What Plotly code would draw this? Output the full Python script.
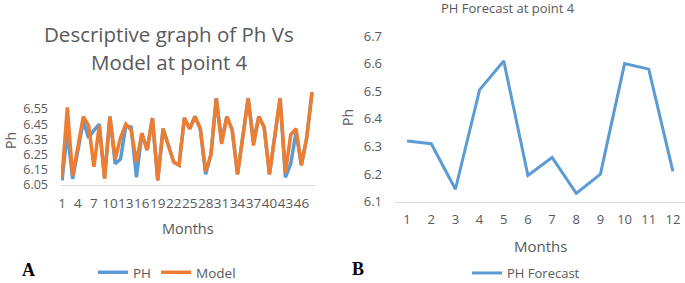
import plotly.graph_objects as go

# ---- Data ----
months_a = list(range(1, 49))
ph_a = [6.08, 6.40, 6.09, 6.28, 6.47, 6.36, 6.41, 6.45, 6.10, 6.50,
        6.19, 6.22, 6.44, 6.43, 6.10, 6.39, 6.28, 6.49, 6.08, 6.42,
        6.31, 6.20, 6.18, 6.49, 6.42, 6.50, 6.42, 6.12, 6.25, 6.62,
        6.34, 6.50, 6.41, 6.12, 6.37, 6.62, 6.34, 6.50, 6.43, 6.12,
        6.37, 6.62, 6.10, 6.19, 6.40, 6.18, 6.36, 6.66]
model_a = [6.10, 6.56, 6.11, 6.30, 6.50, 6.44, 6.17, 6.44, 6.09, 6.50,
           6.22, 6.36, 6.45, 6.41, 6.20, 6.39, 6.28, 6.49, 6.08, 6.42,
           6.31, 6.20, 6.18, 6.49, 6.42, 6.50, 6.42, 6.14, 6.25, 6.62,
           6.32, 6.50, 6.41, 6.12, 6.37, 6.62, 6.31, 6.50, 6.43, 6.12,
           6.37, 6.62, 6.13, 6.38, 6.42, 6.18, 6.36, 6.66]
xtick_a = list(range(1, 47, 3))
ytick_a = [6.05, 6.15, 6.25, 6.35, 6.45, 6.55]

months_b = list(range(1, 13))
forecast_b = [6.32, 6.31, 6.145, 6.505, 6.61, 6.195, 6.26, 6.13, 6.20, 6.60, 6.58, 6.21]
ytick_b = [6.1, 6.2, 6.3, 6.4, 6.5, 6.6, 6.7]

W, H = 685, 283
def px(x):
    return x / W
def py(y):
    return 1 - y / H

BLUE = "#5B9BD5"
ORANGE = "#ED7D31"
GRAY = "#595959"
FONT = "Open Sans"

fig = go.Figure()
fig.add_trace(go.Scatter(x=months_a, y=ph_a, mode="lines", name="PH",
                         line=dict(color=BLUE, width=3.5), xaxis="x", yaxis="y",
                         legend="legend"))
fig.add_trace(go.Scatter(x=months_a, y=model_a, mode="lines", name="Model",
                         line=dict(color=ORANGE, width=3.5), xaxis="x", yaxis="y",
                         legend="legend"))
fig.add_trace(go.Scatter(x=months_b, y=forecast_b, mode="lines", name="PH Forecast",
                         line=dict(color=BLUE, width=3), xaxis="x2", yaxis="y2",
                         legend="legend2"))

tickfont = dict(family=FONT, size=13, color=GRAY)

fig.update_layout(
    width=W, height=H,
    margin=dict(l=0, r=0, t=0, b=0, autoexpand=False),
    paper_bgcolor="white", plot_bgcolor="white",
    font=dict(family=FONT, color=GRAY),
    xaxis=dict(domain=[px(61), px(315)], range=[0.81, 48.56], anchor="y",
               tickvals=xtick_a, ticktext=[str(v) for v in xtick_a], tickangle=0,
               tickfont=dict(family=FONT, size=13.5, color=GRAY),
               showgrid=False, zeroline=False, showline=True, linecolor="#d9d9d9",
               linewidth=1, ticks="", ticklabelstandoff=6),
    yaxis=dict(domain=[py(185), py(91)], range=[6.05, 6.668], anchor="x",
               tickvals=ytick_a, ticktext=["%.2f" % v for v in ytick_a],
               tickfont=dict(family=FONT, size=12.5, color=GRAY),
               showgrid=False, zeroline=False, showline=False,
               ticks="", ticklabelstandoff=12),
    xaxis2=dict(domain=[px(395), 1.0], range=[0.5, 12.5], anchor="y2",
                tickvals=months_b, ticktext=[str(v) for v in months_b], tickangle=0,
                tickfont=tickfont, showgrid=False, zeroline=False, showline=True,
                linecolor="#d9d9d9", linewidth=1, ticks="", ticklabelstandoff=6),
    yaxis2=dict(domain=[py(201.7), py(36)], range=[6.1, 6.7], anchor="x2",
                tickvals=ytick_b, ticktext=["%.1f" % v for v in ytick_b],
                tickfont=tickfont, showgrid=False, zeroline=False, showline=False,
                ticks="", ticklabelstandoff=12),
    legend=dict(orientation="h", x=px(93), y=-5 / H, xanchor="left", yanchor="bottom",
                font=dict(family=FONT, size=13.5, color=GRAY), bgcolor="rgba(0,0,0,0)",
                borderwidth=0),
    legend2=dict(orientation="h", x=px(467), y=-5 / H, xanchor="left", yanchor="bottom",
                 font=dict(family=FONT, size=13, color=GRAY), bgcolor="rgba(0,0,0,0)",
                 borderwidth=0),
    showlegend=True,
)

ann = []
ann.append(dict(text="Descriptive graph of Ph Vs", x=px(169), y=py(34),
                font=dict(family=FONT, size=20.5, color=GRAY)))
ann.append(dict(text="Model at point 4", x=px(169), y=py(62),
                font=dict(family=FONT, size=20.5, color=GRAY)))
ann.append(dict(text="PH Forecast at point 4", x=px(508), y=py(8),
                font=dict(family=FONT, size=13, color=GRAY)))
ann.append(dict(text="Ph", x=px(10), y=py(141), textangle=-90,
                font=dict(family=FONT, size=14, color=GRAY)))
ann.append(dict(text="Ph", x=px(347), y=py(118), textangle=-90,
                font=dict(family=FONT, size=14, color=GRAY)))
ann.append(dict(text="Months", x=px(188), y=py(228),
                font=dict(family=FONT, size=14.5, color=GRAY)))
ann.append(dict(text="Months", x=px(540), y=py(246),
                font=dict(family=FONT, size=15, color=GRAY)))
ann.append(dict(text="<b>A</b>", x=px(28), y=py(270),
                font=dict(family="Liberation Serif", size=18, color="black")))
ann.append(dict(text="<b>B</b>", x=px(358), y=py(269),
                font=dict(family="Liberation Serif", size=18, color="black")))
for a in ann:
    a.update(xref="paper", yref="paper", showarrow=False, xanchor="center", yanchor="middle")
fig.update_layout(annotations=ann)

fig.write_html("out.html", config={"displayModeBar": False},
               post_script="document.body.style.margin='0';")
